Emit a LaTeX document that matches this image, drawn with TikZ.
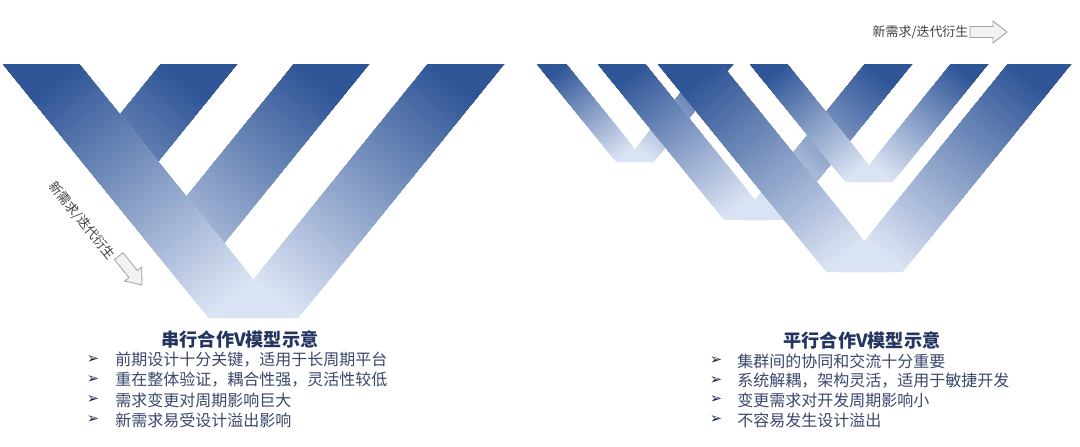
\documentclass[tikz,border=0pt]{standalone}
\usepackage{fontspec}
\setmainfont{Noto Sans CJK SC}
\newfontfamily\symfont{DejaVu Sans}
\definecolor{vdark}{RGB}{47,85,151}
\definecolor{vlight}{RGB}{218,227,243}
\definecolor{titlecol}{RGB}{35,52,96}
\definecolor{bodycol}{RGB}{58,72,108}
\definecolor{bulletcol}{RGB}{30,40,75}
\definecolor{labelcol}{RGB}{64,64,64}
\definecolor{arrfill}{RGB}{242,242,242}
\definecolor{arrline}{RGB}{160,160,160}
\newcommand\gsteps{50}
% gradient along an arm: #1 clip polygon, #2 #3 top centre, #4 #5 unit axis, #6 t0, #7 t1
\newcommand\armshade[7]{%
  \begin{scope}
    \clip #1;
    \fill[vlight] #1;
    \foreach \k in {1,...,\gsteps}{%
      \pgfmathsetmacro\gT{#7-(#7-#6)*\k/\gsteps}%
      \pgfmathtruncatemacro\gP{100*\k/\gsteps}%
      \pgfmathsetmacro\gAx{#2-600*(#4)+600*(#5)}%
      \pgfmathsetmacro\gAy{#3-600*(#5)-600*(#4)}%
      \pgfmathsetmacro\gBx{#2+\gT*(#4)+600*(#5)}%
      \pgfmathsetmacro\gBy{#3+\gT*(#5)-600*(#4)}%
      \pgfmathsetmacro\gCx{#2+\gT*(#4)-600*(#5)}%
      \pgfmathsetmacro\gCy{#3+\gT*(#5)+600*(#4)}%
      \pgfmathsetmacro\gDx{#2-600*(#4)-600*(#5)}%
      \pgfmathsetmacro\gDy{#3-600*(#5)+600*(#4)}%
      \fill[vdark!\gP!vlight] (\gAx,\gAy)--(\gBx,\gBy)--(\gCx,\gCy)--(\gDx,\gDy)--cycle;
    }
  \end{scope}}
% left arm (descends to the right): outer x, inner x, bottom y
\newcommand\larm[3]{%
  \pgfmathsetmacro\gH{#3-64}%
  \pgfmathsetmacro\gBo{#1+0.81*\gH}%
  \pgfmathsetmacro\gBi{#2+0.81*\gH}%
  \pgfmathsetmacro\gMx{(#1+#2)/2}%
  \pgfmathsetmacro\gTz{abs(#2-#1)/2*0.62942}%
  \pgfmathsetmacro\gTl{\gH*1.2869-\gTz}%
  \armshade{(#1,64)--(#2,64)--(\gBi,#3)--(\gBo,#3)--cycle}{\gMx}{64}{0.62942}{0.77706}{\gTz}{\gTl}}
% right arm (descends to the left): outer x, inner x, bottom y
\newcommand\rarm[3]{%
  \pgfmathsetmacro\gH{#3-64}%
  \pgfmathsetmacro\gBo{#1-0.81*\gH}%
  \pgfmathsetmacro\gBi{#2-0.81*\gH}%
  \pgfmathsetmacro\gMx{(#1+#2)/2}%
  \pgfmathsetmacro\gTz{abs(#2-#1)/2*0.62942}%
  \pgfmathsetmacro\gTl{\gH*1.2869-\gTz}%
  \armshade{(#2,64)--(#1,64)--(\gBo,#3)--(\gBi,#3)--cycle}{\gMx}{64}{-0.62942}{0.77706}{\gTz}{\gTl}}
\tikzset{
  blockarrow/.style={fill=arrfill, draw=arrline, line width=0.6pt, line join=miter},
  labeltext/.style={font=\fontsize{9.7}{11}\selectfont, text=labelcol, inner sep=0pt},
  titletext/.style={font=\bfseries\fontsize{13.6}{16}\selectfont, text=titlecol, inner sep=0pt},
  bodytext/.style={font=\fontsize{12}{14}\selectfont, text=bodycol, inner sep=0pt, anchor=west},
  bulletsym/.style={font=\symfont\fontsize{11}{12}\selectfont, text=bulletcol, inner sep=0pt}
}
\begin{document}
\begin{tikzpicture}[x=0.75pt,y=-0.75pt]
\useasboundingbox (0,0) rectangle (1080,446);
\fill[white] (0,0) rectangle (1080,446);
% ---------- serial V model (left) ----------
\armshade{(161,64)--(237,64)--(139,185)--(101,138)--cycle}{199}{64}{-0.62942}{0.77706}{23.9}{303}
\armshade{(294,64)--(369,64)--(205,266.5)--(167.5,220)--cycle}{331.5}{64}{-0.62942}{0.77706}{23.6}{303}
\larm{3}{79}{318}
\rarm{504}{428}{318}
% ---------- parallel V model (right) ----------
\larm{537}{566}{162}
\rarm{733}{704}{162}
\larm{598}{645}{220}
\rarm{912}{865}{220}
\larm{658}{721}{272}
\rarm{1071}{1008}{272}
\larm{750}{787}{182}
\rarm{988}{951}{182}
% ---------- arrows and labels ----------
\node[labeltext] (toplabel) at (920.5,32) {新需求/迭代衍生};
\draw[blockarrow, shift={(970,32)}] (0,-5.5)--(23,-5.5)--(23,-11)--(37,0)--(23,11)--(23,5.5)--(0,5.5)--cycle;
\node[labeltext, rotate=-51] (sidelabel) at (82,221) {新需求/迭代衍生};
\draw[blockarrow, shift={(118.7,256.2)}, rotate=-51] (0,-5.5)--(23,-5.5)--(23,-11)--(37,0)--(23,11)--(23,5.5)--(0,5.5)--cycle;
% ---------- texts ----------
\node[titletext] (ltitle) at (240,339) {串行合作V模型示意};
\node[bulletsym] (lb1) at (93,360) {➢};
\node[bulletsym] (lb2) at (93,380) {➢};
\node[bulletsym] (lb3) at (93,400) {➢};
\node[bulletsym] (lb4) at (93,420) {➢};
\node[bodytext] (lt1) at (115,360) {前期设计十分关键，适用于长周期平台};
\node[bodytext] (lt2) at (115,380) {重在整体验证，耦合性强，灵活性较低};
\node[bodytext] (lt3) at (115,400) {需求变更对周期影响巨大};
\node[bodytext] (lt4) at (115,420) {新需求易受设计溢出影响};
\node[titletext] (rtitle) at (862,340) {平行合作V模型示意};
\node[bulletsym] (rb1) at (716,361) {➢};
\node[bulletsym] (rb2) at (716,381) {➢};
\node[bulletsym] (rb3) at (716,400) {➢};
\node[bulletsym] (rb4) at (716,420) {➢};
\node[bodytext] (rt1) at (737,361) {集群间的协同和交流十分重要};
\node[bodytext] (rt2) at (737,381) {系统解耦，架构灵活，适用于敏捷开发};
\node[bodytext] (rt3) at (737,400) {变更需求对开发周期影响小};
\node[bodytext] (rt4) at (737,420) {不容易发生设计溢出};
\end{tikzpicture}
\end{document}
